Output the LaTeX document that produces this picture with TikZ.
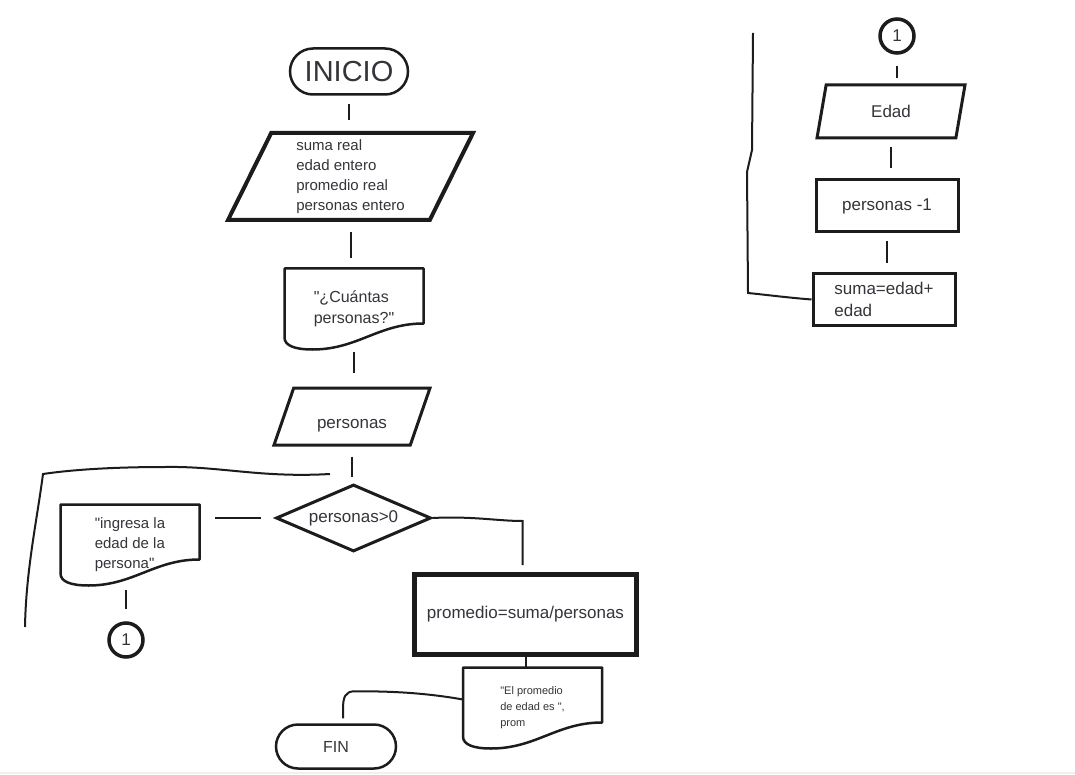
\documentclass[tikz,border=0pt]{standalone}
\usepackage{fontspec}
\setmainfont{Liberation Sans}[Ligatures=TeXOff]
\usetikzlibrary{shapes.geometric,shapes.misc,calc}
\definecolor{ink}{RGB}{28,28,28}
\definecolor{txt}{RGB}{52,52,58}

% outline of a document symbol round node #1
\newcommand\docbox[1]{%
  \draw[docedge] (#1.north west) -- (#1.north east) -- ($(#1.south east)+(0,-26)$)
    .. controls +(-45,0) and +(45,0) .. ($(#1.south west)+(28,0)$)
    .. controls +(-18,0) and +(0,8) .. ($(#1.south west)+(0,-12)$) -- cycle;}

\begin{document}
\begin{tikzpicture}[x=1pt,y=-1pt,
  every node/.style={text=txt, inner sep=2pt},
  term/.style={rounded rectangle, draw=ink, line width=2.5pt},
  io/.style={trapezium, trapezium left angle=61, trapezium right angle=119,
    trapezium stretches body, draw=ink, line width=3pt},
  proc/.style={rectangle, draw=ink, line width=3pt},
  doc/.style={rectangle, outer sep=0pt, minimum width=139, minimum height=81},
  docedge/.style={draw=ink, line width=2.5pt, line join=round},
  dec/.style={diamond, draw=ink, line width=3pt, aspect=2.3, inner sep=1pt},
  conn/.style={circle, draw=ink, line width=3.5pt, minimum size=34},
  link/.style={draw=ink, line width=2pt},
  txtA/.style={font=\fontsize{17}{22}\selectfont},
  txtB/.style={font=\fontsize{15}{20}\selectfont},
  txtC/.style={font=\fontsize{11}{16}\selectfont}]
\fill[white] (0,0) rectangle (1075,775);
\useasboundingbox (0,0) rectangle (1075,775);
\draw[gray!12, line width=2pt] (0,773) -- (1075,773);

% main flow
\node[term, minimum width=122, minimum height=46, font=\fontsize{29}{30}\selectfont] (inicio) at (349,71.5) {INICIO};
\node[io, line width=4pt, minimum width=245, minimum height=87, align=left, txtB] (decl) at (350.5,176.5) {suma real\\edad entero\\promedio real\\personas entero};
\node[doc, align=left, font=\fontsize{16}{21}\selectfont] (q1) at (354,309) {"¿Cuántas\\personas?"};
\docbox{q1}
\node[io, minimum width=156, minimum height=57, text height=28pt, txtA] (inp1) at (352,416.5) {personas};
\node[dec, minimum width=155, minimum height=67, txtA] (cond) at (353.5,518) {personas>0};
\node[doc, align=left, txtB] (ing) at (130,545) {"ingresa la\\edad de la\\persona"};
\docbox{ing}
\node[conn, txtA] (c1) at (126,640) {1};
\node[proc, line width=5pt, minimum width=222, minimum height=80, txtA] (prom) at (525.5,614.5) {promedio=suma/personas};
\node[doc, align=left, txtC] (out) at (532.5,708) {"El promedio\\de edad es ",\\prom};
\docbox{out}
\node[term, minimum width=124, minimum height=44, font=\fontsize{16}{20}\selectfont] (fin) at (336,746.5) {FIN};

% right column
\node[conn, txtA] (c2) at (897,36) {1};
\node[io, minimum width=148, minimum height=53, txtA] (edad) at (891,111.5) {Edad};
\node[proc, minimum width=142, minimum height=52, txtA] (pm1) at (887,206) {personas -1};
\node[proc, minimum width=142, minimum height=51, align=left, txtA] (sum) at (884,299.5) {suma=edad+\\edad};

\coordinate (backin) at (330,474);
\coordinate (backend) at (25,627);
\coordinate (upend) at (753,33);

% connectors
\draw[link, shorten <=8pt, shorten >=11pt] (inicio.south) -- (inicio.south |- decl.north);
\draw[link, shorten <=10pt, shorten >=10pt] (decl.south) -- (decl.south |- q1.north);
\draw[link, shorten <=2pt, shorten >=13pt] (q1.south) -- (q1.south |- inp1.north);
\draw[link, shorten <=10pt, shorten >=6pt] (inp1.south) -- (inp1.south |- cond.north);
\draw[link, shorten <=14pt, shorten >=15pt] (cond.west) -- (cond.west -| ing.east);
\draw[link, shorten <=12pt, shorten >=4pt] (c1.north) -- (c1.north |- ing.south);
\draw[link, shorten >=7pt] (cond.east) .. controls +(40,-2) and +(-25,0) .. ($(prom.north)+(-3,-51)$) -- ($(prom.north)+(-3,0)$);
\draw[link] (prom.south) -- (prom.south |- out.north);
\draw[link, shorten >=5pt] ($(out.north west)+(0,32)$) .. controls +(-40,-7) and +(35,0) .. ($(fin.north)+(19,-32)$)
  .. controls +(-10,0) and +(0,-12) .. ($(fin.north)+(7,-14)$) -- ($(fin.north)+(7,0)$);
\draw[link] (backin) .. controls (260,478) and (220,466) .. (165,467) .. controls (110,467) and (70,470) .. (43,474)
  .. controls (37,520) and (26,570) .. (backend);
\draw[link, shorten <=11pt, shorten >=5pt] (c2.south) -- (c2.south |- edad.north);
\draw[link, shorten <=7pt, shorten >=10pt] (edad.south) -- (edad.south |- pm1.north);
\draw[link, shorten <=8pt, shorten >=9pt] (pm1.south) -- (pm1.south |- sum.north);
\draw[link] (sum.west) .. controls +(-25,-2) and +(20,2) .. (748,293) -- (747,172) -- (752,150) -- (upend);
\end{tikzpicture}
\end{document}
